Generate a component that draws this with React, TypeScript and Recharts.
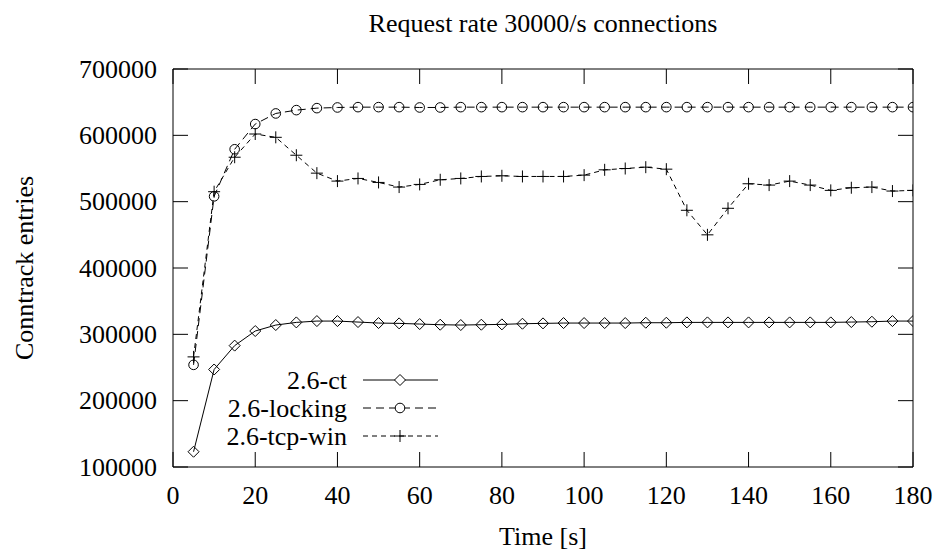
import React from 'react';
import { LineChart, Line, XAxis, YAxis, Legend } from 'recharts';

const times = [5, 10, 15, 20, 25, 30, 35, 40, 45, 50, 55, 60, 65, 70, 75, 80, 85, 90, 95, 100, 105, 110, 115, 120, 125, 130, 135, 140, 145, 150, 155, 160, 165, 170, 175, 180];

const ctValues = [123000, 247000, 283000, 305000, 314000, 318000, 320000, 320000, 318500, 317000, 316500, 315500, 314500, 314000, 314500, 315000, 316000, 316500, 317000, 317000, 317000, 317000, 317500, 317500, 318000, 318000, 318000, 318000, 318000, 318000, 318000, 318000, 318500, 319000, 320000, 320000];

const lockingValues = [254000, 508000, 579000, 617000, 633000, 638000, 641000, 642000, 642500, 642500, 642500, 642000, 642000, 642500, 642500, 642500, 642500, 642500, 642500, 642500, 642500, 642500, 642500, 642500, 642500, 642500, 642500, 642500, 642500, 642500, 642500, 642500, 642500, 642500, 642500, 642500];

const tcpWinValues = [266000, 515000, 567000, 602000, 597000, 570000, 543000, 531000, 535000, 529000, 522000, 526000, 533000, 535000, 538000, 539000, 538000, 538000, 538000, 540000, 548000, 550000, 552000, 549000, 487000, 450000, 490000, 527000, 525000, 531000, 525000, 517000, 521000, 522000, 516000, 517000];

const xTicks = [0, 20, 40, 60, 80, 100, 120, 140, 160, 180];
const yTicks = [100000, 200000, 300000, 400000, 500000, 600000, 700000];

const seriesNames = ['2.6-ct', '2.6-locking', '2.6-tcp-win'];
const titleText = 'Request rate 30000/s connections';
const xLabelText = 'Time [s]';
const yLabelText = 'Conntrack entries';

const data = times.map((t, i) => ({
  t,
  ct: ctValues[i],
  locking: lockingValues[i],
  tcp: tcpWinValues[i],
}));

const FONT = '"Liberation Serif", "Times New Roman", serif';
const FS = 26;
const TICK_LEN = 15;
const Y_MARGIN = 16;
const X_MARGIN = 28;
const LOCK_DASH = '8 5';
const TCP_DASH = '5 4';

const diamondPath = (cx: number, cy: number, s: number) =>
  `M${cx},${cy - s}L${cx + s},${cy}L${cx},${cy + s}L${cx - s},${cy}Z`;

const DiamondDot = (props: any) => {
  const { cx, cy } = props;
  if (cx == null || cy == null) return null;
  return <path d={diamondPath(cx, cy, 5.5)} fill="none" stroke="#000" strokeWidth={1} />;
};

const CircleDot = (props: any) => {
  const { cx, cy } = props;
  if (cx == null || cy == null) return null;
  return <circle cx={cx} cy={cy} r={4.8} fill="none" stroke="#000" strokeWidth={1} />;
};

const PlusDot = (props: any) => {
  const { cx, cy } = props;
  if (cx == null || cy == null) return null;
  const s = 6;
  return (
    <path d={`M${cx - s},${cy}L${cx + s},${cy}M${cx},${cy - s}L${cx},${cy + s}`} fill="none" stroke="#000" strokeWidth={1} />
  );
};

const LeftTick = (props: any) => {
  const { x, y, payload } = props;
  return (
    <g>
      <text x={x} y={y} textAnchor="end" dominantBaseline="central" fontFamily={FONT} fontSize={FS} fill="#000">
        {payload.value}
      </text>
      <line x1={x + Y_MARGIN} y1={y} x2={x + Y_MARGIN + TICK_LEN} y2={y} stroke="#000" strokeWidth={1} />
    </g>
  );
};

const BottomTick = (props: any) => {
  const { x, y, payload } = props;
  return (
    <g>
      <text x={x} y={y} textAnchor="middle" dominantBaseline="central" fontFamily={FONT} fontSize={FS} fill="#000">
        {payload.value}
      </text>
      <line x1={x} y1={y - X_MARGIN} x2={x} y2={y - X_MARGIN - TICK_LEN} stroke="#000" strokeWidth={1} />
    </g>
  );
};

const TopTick = (props: any) => {
  const { x, y } = props;
  return <line x1={x} y1={y} x2={x} y2={y + TICK_LEN} stroke="#000" strokeWidth={1} />;
};

const RightTick = (props: any) => {
  const { x, y } = props;
  return <line x1={x} y1={y} x2={x - TICK_LEN} y2={y} stroke="#000" strokeWidth={1} />;
};

const YLabel = (props: any) => {
  const vb = props.viewBox || {};
  const cx = (vb.x ?? 0) + 24;
  const cy = (vb.y ?? 0) + (vb.height ?? 0) / 2;
  return (
    <text x={cx} y={cy} transform={`rotate(-90 ${cx} ${cy})`} textAnchor="middle" dominantBaseline="central" fontFamily={FONT} fontSize={FS} fill="#000">
      {yLabelText}
    </text>
  );
};

const XLabel = (props: any) => {
  const vb = props.viewBox || {};
  const cx = (vb.x ?? 0) + (vb.width ?? 0) / 2;
  const cy = (vb.y ?? 0) + 69;
  return (
    <text x={cx} y={cy} textAnchor="middle" dominantBaseline="central" fontFamily={FONT} fontSize={FS} fill="#000">
      {xLabelText}
    </text>
  );
};

const renderLegend = () => {
  const rows = [
    { name: seriesNames[0], dash: undefined as string | undefined, marker: 'diamond' },
    { name: seriesNames[1], dash: LOCK_DASH, marker: 'circle' },
    { name: seriesNames[2], dash: TCP_DASH, marker: 'plus' },
  ];
  return (
    <svg width={260} height={100} style={{ display: 'block' }}>
      {rows.map((r, i) => {
        const y = 18 + i * 28;
        const mx = 200;
        let marker: React.ReactNode = null;
        if (r.marker === 'diamond') marker = <path d={diamondPath(mx, y, 5.5)} fill="#fff" stroke="#000" />;
        else if (r.marker === 'circle') marker = <circle cx={mx} cy={y} r={4.8} fill="#fff" stroke="#000" />;
        else marker = <path d={`M${mx - 6},${y}L${mx + 6},${y}M${mx},${y - 6}L${mx},${y + 6}`} stroke="#000" />;
        return (
          <g key={r.name}>
            <text x={147} y={y} textAnchor="end" dominantBaseline="central" fontFamily={FONT} fontSize={FS} fill="#000">
              {r.name}
            </text>
            <line x1={163} y1={y} x2={238} y2={y} stroke="#000" strokeWidth={1} strokeDasharray={r.dash} />
            {marker}
          </g>
        );
      })}
    </svg>
  );
};

export default function App() {
  return (
    <div style={{ position: 'absolute', left: 0, top: 0, width: 943, height: 556, background: '#fff' }}>
      <div
        style={{
          position: 'absolute',
          left: 173,
          top: 9,
          width: 740,
          textAlign: 'center',
          fontFamily: FONT,
          fontSize: FS,
          lineHeight: '30px',
          color: '#000',
        }}
      >
        {titleText}
      </div>
      <LineChart width={943} height={556} data={data} margin={{ top: 68, right: 29, bottom: 59, left: 0 }}>
        <XAxis
          xAxisId="bottom"
          dataKey="t"
          type="number"
          domain={[0, 180]}
          ticks={xTicks}
          interval={0}
          allowDataOverflow
          height={30}
          tickSize={0}
          tickMargin={X_MARGIN}
          tickLine={false}
          axisLine={{ stroke: '#000', strokeWidth: 1 }}
          tick={<BottomTick />}
          label={{ content: <XLabel /> }}
        />
        <XAxis
          xAxisId="top"
          orientation="top"
          dataKey="t"
          type="number"
          domain={[0, 180]}
          ticks={xTicks}
          interval={0}
          allowDataOverflow
          height={1}
          tickSize={0}
          tickMargin={0}
          tickLine={false}
          axisLine={{ stroke: '#000', strokeWidth: 1 }}
          tick={<TopTick />}
        />
        <YAxis
          yAxisId="left"
          type="number"
          domain={[100000, 700000]}
          ticks={yTicks}
          interval={0}
          allowDataOverflow
          width={173}
          tickSize={0}
          tickMargin={Y_MARGIN}
          tickLine={false}
          axisLine={{ stroke: '#000', strokeWidth: 1 }}
          tick={<LeftTick />}
          label={{ content: <YLabel /> }}
        />
        <YAxis
          yAxisId="right"
          orientation="right"
          type="number"
          domain={[100000, 700000]}
          ticks={yTicks}
          interval={0}
          allowDataOverflow
          width={1}
          tickSize={0}
          tickMargin={0}
          tickLine={false}
          axisLine={{ stroke: '#000', strokeWidth: 1 }}
          tick={<RightTick />}
        />
        <Legend
          verticalAlign="middle"
          align="center"
          layout="horizontal"
          content={renderLegend}
          wrapperStyle={{ position: 'absolute', left: 200, top: 362, width: 260, height: 100 }}
        />
        <Line
          xAxisId="bottom"
          yAxisId="left"
          type="linear"
          dataKey="ct"
          name={seriesNames[0]}
          stroke="#000"
          strokeWidth={1}
          dot={<DiamondDot />}
          activeDot={false}
          isAnimationActive={false}
        />
        <Line
          xAxisId="bottom"
          yAxisId="left"
          type="linear"
          dataKey="locking"
          name={seriesNames[1]}
          stroke="#000"
          strokeWidth={1}
          strokeDasharray={LOCK_DASH}
          dot={<CircleDot />}
          activeDot={false}
          isAnimationActive={false}
        />
        <Line
          xAxisId="bottom"
          yAxisId="left"
          type="linear"
          dataKey="tcp"
          name={seriesNames[2]}
          stroke="#000"
          strokeWidth={1}
          strokeDasharray={TCP_DASH}
          dot={<PlusDot />}
          activeDot={false}
          isAnimationActive={false}
        />
      </LineChart>
    </div>
  );
}
